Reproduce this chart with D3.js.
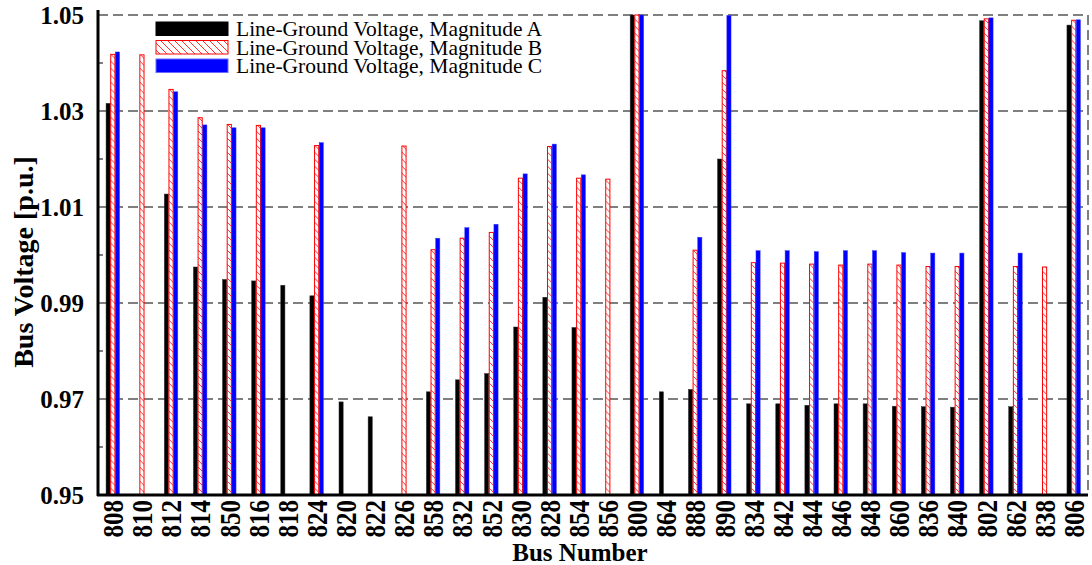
<!DOCTYPE html>
<html>
<head>
<meta charset="utf-8">
<script src="https://cdn.jsdelivr.net/npm/d3@7"></script>
<style>
  body { margin: 0; background: #fff; }
  text { font-family: "Liberation Serif", "Times New Roman", serif; }
</style>
</head>
<body>
<svg width="1092" height="565"></svg>
<script>
// bus order as in the figure
var buses = ["808","810","812","814","850","816","818","824","820","822","826","858","832","852","830","828","854","856","800","864","888","890","834","842","844","846","848","860","836","840","802","862","838","806"];

// p.u. magnitudes per phase (null = phase not present)
var phaseA = [1.0316, null, 1.0127, 0.9975, 0.9949, 0.9946, 0.9937, 0.9915, 0.9694, 0.9663, null, 0.9715, 0.9740, 0.9753, 0.9850, 0.9912, 0.9849, null, 1.0500, 0.9715, 0.9720, 1.0200, 0.9690, 0.9690, 0.9687, 0.9690, 0.9690, 0.9685, 0.9684, 0.9683, 1.0488, 0.9684, null, 1.0479];
var phaseB = [1.0418, 1.0417, 1.0345, 1.0286, 1.0272, 1.0270, null, 1.0228, null, null, 1.0227, 1.0011, 1.0035, 1.0047, 1.0160, 1.0226, 1.0160, 1.0158, 1.0500, null, 1.0010, 1.0384, 0.9984, 0.9983, 0.9981, 0.9979, 0.9981, 0.9979, 0.9976, 0.9976, 1.0492, 0.9976, 0.9975, 1.0489];
var phaseC = [1.0423, null, 1.0340, 1.0271, 1.0265, 1.0265, null, 1.0234, null, null, null, 1.0035, 1.0057, 1.0064, 1.0169, 1.0231, 1.0167, null, 1.0500, null, 1.0037, 1.0499, 1.0009, 1.0009, 1.0007, 1.0009, 1.0009, 1.0005, 1.0004, 1.0004, 1.0494, 1.0004, null, 1.0490];

var phases = ["A", "B", "C"];
var legendLabels = ["Line-Ground Voltage, Magnitude A", "Line-Ground Voltage, Magnitude B", "Line-Ground Voltage, Magnitude C"];
var yTicks = [0.95, 0.97, 0.99, 1.01, 1.03, 1.05];
var yMinor = [0.96, 0.98, 1.00, 1.02, 1.04];

var svg = d3.select("svg");
var pLeft = 98, pRight = 1088, pTop = 15, pBottom = 495;

var defs = svg.append("defs");
var hatch = defs.append("pattern")
    .attr("id", "hatch")
    .attr("patternUnits", "userSpaceOnUse")
    .attr("width", 7).attr("height", 7);
hatch.append("rect").attr("width", 7).attr("height", 7).attr("fill", "#fff");
hatch.append("path")
    .attr("d", "M-1,-1 L8,8 M-1,6 L1,8 M6,-1 L8,1")
    .attr("stroke", "#ff3030").attr("stroke-width", 1);

var x0 = d3.scaleBand().domain(buses).range([pLeft, pRight]).padding(0);
var x1 = d3.scaleBand().domain(phases).range([0, 14]).padding(0);
var y = d3.scaleLinear().domain([0.95, 1.05]).range([pBottom, pTop]);

// grid lines
svg.append("g").selectAll("line")
    .data(yTicks.slice(1))
    .enter().append("line")
      .attr("x1", pLeft).attr("x2", pRight)
      .attr("y1", function(d) { return y(d); })
      .attr("y2", function(d) { return y(d); })
      .attr("stroke", "#555").attr("stroke-width", 1.5)
      .attr("stroke-dasharray", "10,5");

svg.append("line")
    .attr("x1", pRight).attr("x2", pRight)
    .attr("y1", pTop).attr("y2", pBottom)
    .attr("stroke", "#555").attr("stroke-width", 1.5)
    .attr("stroke-dasharray", "10,5");

// bars
var rows = buses.map(function(b, i) {
  return { bus: b, A: phaseA[i], B: phaseB[i], C: phaseC[i] };
});

var fills = { A: "#000", B: "url(#hatch)", C: "#0000ff" };
var strokes = { A: "#333", B: "#ff0000", C: "#3a3aff" };

var group = svg.append("g").selectAll("g")
    .data(rows)
    .enter().append("g")
      .attr("transform", function(d) { return "translate(" + (x0(d.bus) + x0.bandwidth() / 2 - 7) + ",0)"; });

group.selectAll("rect")
    .data(function(d) {
      return phases.filter(function(p) { return d[p] != null; })
        .map(function(p) { return { phase: p, value: d[p] }; });
    })
    .enter().append("rect")
      .attr("x", function(d) { return x1(d.phase) + 0.5; })
      .attr("y", function(d) { return y(d.value); })
      .attr("width", x1.bandwidth() - 0.5)
      .attr("height", function(d) { return pBottom - y(d.value); })
      .attr("fill", function(d) { return fills[d.phase]; })
      .attr("stroke", function(d) { return strokes[d.phase]; })
      .attr("stroke-width", function(d) { return d.phase == "B" ? 1 : 0.5; });

// axes
var yAxis = svg.append("g")
    .attr("transform", "translate(" + pLeft + ",0)")
    .call(d3.axisLeft(y).tickValues(yTicks).tickFormat(d3.format(".2f")).tickSize(0).tickPadding(14));
yAxis.select(".domain").remove();
yAxis.selectAll("text")
    .attr("font-size", 25).attr("font-weight", "bold")
    .attr("font-family", "Liberation Serif").attr("fill", "#000");

svg.append("g").selectAll("line")
    .data(yMinor)
    .enter().append("line")
      .attr("x1", pLeft).attr("x2", pLeft + 5)
      .attr("y1", function(d) { return y(d); })
      .attr("y2", function(d) { return y(d); })
      .attr("stroke", "#000").attr("stroke-width", 1);

svg.append("line")
    .attr("x1", pLeft).attr("x2", pLeft)
    .attr("y1", 10).attr("y2", pBottom + 1)
    .attr("stroke", "#000").attr("stroke-width", 3);

var xAxis = svg.append("g")
    .attr("transform", "translate(0," + pBottom + ")")
    .call(d3.axisBottom(x0).tickSize(0).tickPadding(0));
xAxis.select(".domain").remove();
xAxis.selectAll("text")
    .attr("font-size", 25).attr("font-weight", "bold")
    .attr("font-family", "Liberation Serif").attr("fill", "#000")
    .attr("text-anchor", "end")
    .attr("dy", "0.35em")
    .attr("transform", "translate(0,5) rotate(-90) scale(1,1.2)")
    .attr("x", 0).attr("y", 0);

svg.append("line")
    .attr("x1", pLeft - 1).attr("x2", pRight)
    .attr("y1", pBottom).attr("y2", pBottom)
    .attr("stroke", "#000").attr("stroke-width", 3);

// axis titles
svg.append("text")
    .attr("x", 580).attr("y", 561)
    .attr("text-anchor", "middle")
    .attr("font-size", 25).attr("font-weight", "bold")
    .text("Bus Number");

svg.append("text")
    .attr("transform", "translate(33,262) rotate(-90)")
    .attr("text-anchor", "middle")
    .attr("font-size", 28).attr("font-weight", "bold")
    .text("Bus Voltage [p.u.]");

// legend
var legend = svg.append("g").attr("transform", "translate(156,22)");
var legendFills = ["#000", "url(#hatch)", "#0000ff"];
var legendStrokes = ["#000", "#ff0000", "#6a6aff"];
legendLabels.forEach(function(label, i) {
  legend.append("rect")
      .attr("x", 0).attr("y", i * 18.5)
      .attr("width", 72).attr("height", 13.5)
      .attr("fill", legendFills[i])
      .attr("stroke", legendStrokes[i]).attr("stroke-width", 1);
  legend.append("text")
      .attr("x", 80).attr("y", i * 18.5 + 14)
      .attr("font-size", 21.5)
      .text(label);
});
</script>
</body>
</html>
